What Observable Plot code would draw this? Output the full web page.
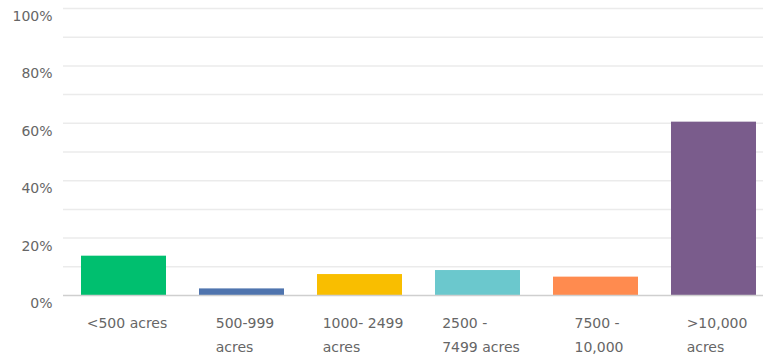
<!DOCTYPE html>
<html>
<head>
<meta charset="utf-8">
<script src="https://cdn.jsdelivr.net/npm/d3@7"></script>
<script src="https://cdn.jsdelivr.net/npm/@observablehq/plot@0.6"></script>
<style>
  html, body { margin: 0; padding: 0; background: #fff; }
  #chart svg { display: block; }
</style>
</head>
<body>
<div id="chart"></div>
<script>
const categories = ["<500 acres", "500-999\nacres", "1000- 2499\nacres", "2500 -\n7499 acres", "7500 -\n10,000", ">10,000\nacres"];
const values = [13.7, 2.3, 7.3, 8.7, 6.4, 60.4];
const colors = ["#00BF6F", "#4F74AE", "#F9BE00", "#6BC8CD", "#FF8B4F", "#7A5C8C"];
const yTicks = [0, 20, 40, 60, 80, 100];
const gridValues = [10, 20, 30, 40, 50, 60, 70, 80, 90, 100];

const data = categories.map((c, i) => ({category: c, value: values[i], color: colors[i]}));

const font = "'DejaVu Sans', sans-serif";

const chart = Plot.plot({
  width: 763,
  height: 359,
  marginLeft: 63,
  marginRight: 0,
  marginTop: 8,
  marginBottom: 64,
  style: {fontFamily: font, background: "#fff"},
  x: {domain: categories, range: [63, 773], paddingInner: 0.28, paddingOuter: 0.14, axis: null},
  y: {domain: [0, 100], axis: null},
  marks: [
    Plot.ruleY(gridValues, {stroke: "#ebebeb", strokeWidth: 1.5}),
    Plot.barY(data, {x: "category", y: "value", fill: "color"}),
    Plot.ruleY([0], {stroke: "#cfcfcf", strokeWidth: 1.5}),
    Plot.ruleX([0], {x: () => 63, frameAnchor: "left", stroke: "#dcdcdc", strokeWidth: 1.5, y1: 0, y2: 100}),
    Plot.axisY({ticks: yTicks, tickFormat: d => d + "%", tickSize: 0, tickPadding: 11, dy: 8, fontSize: 14, fill: "#666", label: null}),
    Plot.text(categories, {x: d => d, y: 0, lineAnchor: "top", lineHeight: 1.7, dy: 16, fontSize: 14, fill: "#666", className: "xlab"})
  ]
});

document.getElementById("chart").appendChild(chart);

// left-align the lines of each category label within its centred block
d3.select(chart).selectAll("g.xlab text").each(function() {
  const b = this.getBBox();
  const t = d3.select(this);
  t.attr("text-anchor", "start");
  t.selectAll("tspan").attr("x", b.x + 3);
  if (t.selectAll("tspan").empty()) t.attr("x", b.x + 3);
});
</script>
</body>
</html>
